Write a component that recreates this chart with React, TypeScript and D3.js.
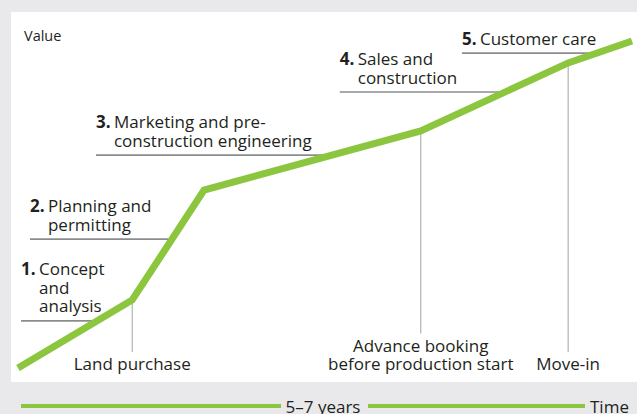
import React from "react";
import * as d3 from "d3";

// value curve over the project lifetime (0-100 on both axes)
const curveTime = [0, 18.6, 30.3, 65.6, 89.6, 100];
const curveValue = [0, 20.8, 54.4, 72.5, 93.3, 100];

// phases: label start (time) and underline level (value)
const phaseNumbers = ["1.", "2.", "3.", "4.", "5."];
const phaseLines = [
  ["Concept", "and", "analysis"],
  ["Planning and", "permitting"],
  ["Marketing and pre-", "construction engineering"],
  ["Sales and", "construction"],
  ["Customer care"],
];
const phaseTime = [0.5, 1.95, 12.7, 52.4, 72.3];
const phaseValue = [14.4, 39.4, 65.1, 84.4, 96.3];

// milestones on the curve (index into curve points)
const milestoneIndex = [1, 3, 4];
const milestoneLines = [
  ["Land purchase"],
  ["Advance booking", "before production start"],
  ["Move-in"],
];

const WIDTH = 637;
const HEIGHT = 414;
const GREEN = "#8cc63f";
const TEXT = "#231f20";
const FONT = "'Open Sans', 'Noto Sans', sans-serif";
const FS = 17;

const App = () => {
  const x = d3.scaleLinear().domain([0, 100]).range([18, 632]);
  const y = d3.scaleLinear().domain([0, 100]).range([368, 41]);

  const pts: [number, number][] = curveTime.map((t, i) => [x(t), y(curveValue[i])]);
  const line = d3.line();

  // x where the curve reaches a given value
  const xAtValue = (v: number) => {
    for (let i = 1; i < curveValue.length; i++) {
      if (v <= curveValue[i]) {
        const f = (v - curveValue[i - 1]) / (curveValue[i] - curveValue[i - 1]);
        return x(curveTime[i - 1] + f * (curveTime[i] - curveTime[i - 1]));
      }
    }
    return x(100);
  };

  const lh = 18.5;
  const labelBottom = 370;

  return (
    <svg
      width={WIDTH}
      height={HEIGHT}
      style={{ position: "absolute", left: 0, top: 0 }}
      fontFamily={FONT}
    >
      <rect width={WIDTH} height={HEIGHT} fill="#e9e9eb" />
      <rect x={11} y={12} width={WIDTH - 11} height={370} fill="#fff" />

      <text x={24} y={41} fontSize={14.5} fill={TEXT}>
        Value
      </text>

      {/* phase underlines and labels */}
      {phaseNumbers.map((num, i) => {
        const ly = y(phaseValue[i]);
        const lx = x(phaseTime[i]);
        const lines = phaseLines[i];
        return (
          <g key={num}>
            <line
              x1={lx}
              x2={xAtValue(phaseValue[i])}
              y1={ly}
              y2={ly}
              stroke="#8a8c8e"
              strokeWidth={1.6}
            />
            {lines.map((s, j) => {
              const by = ly - 8.5 - (lines.length - 1 - j) * lh;
              return (
                <g key={j}>
                  {j === 0 && (
                    <text x={lx} y={by} fontSize={FS} fontWeight="bold" fill={TEXT}>
                      {num}
                    </text>
                  )}
                  <text x={lx + 18} y={by} fontSize={FS} fill={TEXT}>
                    {s}
                  </text>
                </g>
              );
            })}
          </g>
        );
      })}

      {/* milestone drop lines */}
      {milestoneIndex.map((idx, i) => {
        const [mx, my] = pts[idx];
        const lines = milestoneLines[i];
        const top = labelBottom - (lines.length - 1) * lh;
        return (
          <g key={idx}>
            <line
              x1={mx}
              x2={mx}
              y1={my}
              y2={top - 18}
              stroke="#a0a2a4"
              strokeWidth={1}
            />
            {lines.map((s, j) => (
              <text
                key={j}
                x={mx}
                y={top + j * lh}
                fontSize={FS}
                textAnchor="middle"
                fill={TEXT}
              >
                {s}
              </text>
            ))}
          </g>
        );
      })}

      <path
        d={line(pts) ?? ""}
        fill="none"
        stroke={GREEN}
        strokeWidth={7}
        strokeLinejoin="miter"
      />

      {/* time axis band */}
      <line x1={21} x2={281} y1={406} y2={406} stroke={GREEN} strokeWidth={4} />
      <text x={323} y={413} fontSize={FS} textAnchor="middle" fill={TEXT}>
        5–7 years
      </text>
      <line x1={368} x2={585} y1={406} y2={406} stroke={GREEN} strokeWidth={4} />
      <text x={590} y={413} fontSize={FS} fill={TEXT}>
        Time
      </text>
    </svg>
  );
};

export default App;
